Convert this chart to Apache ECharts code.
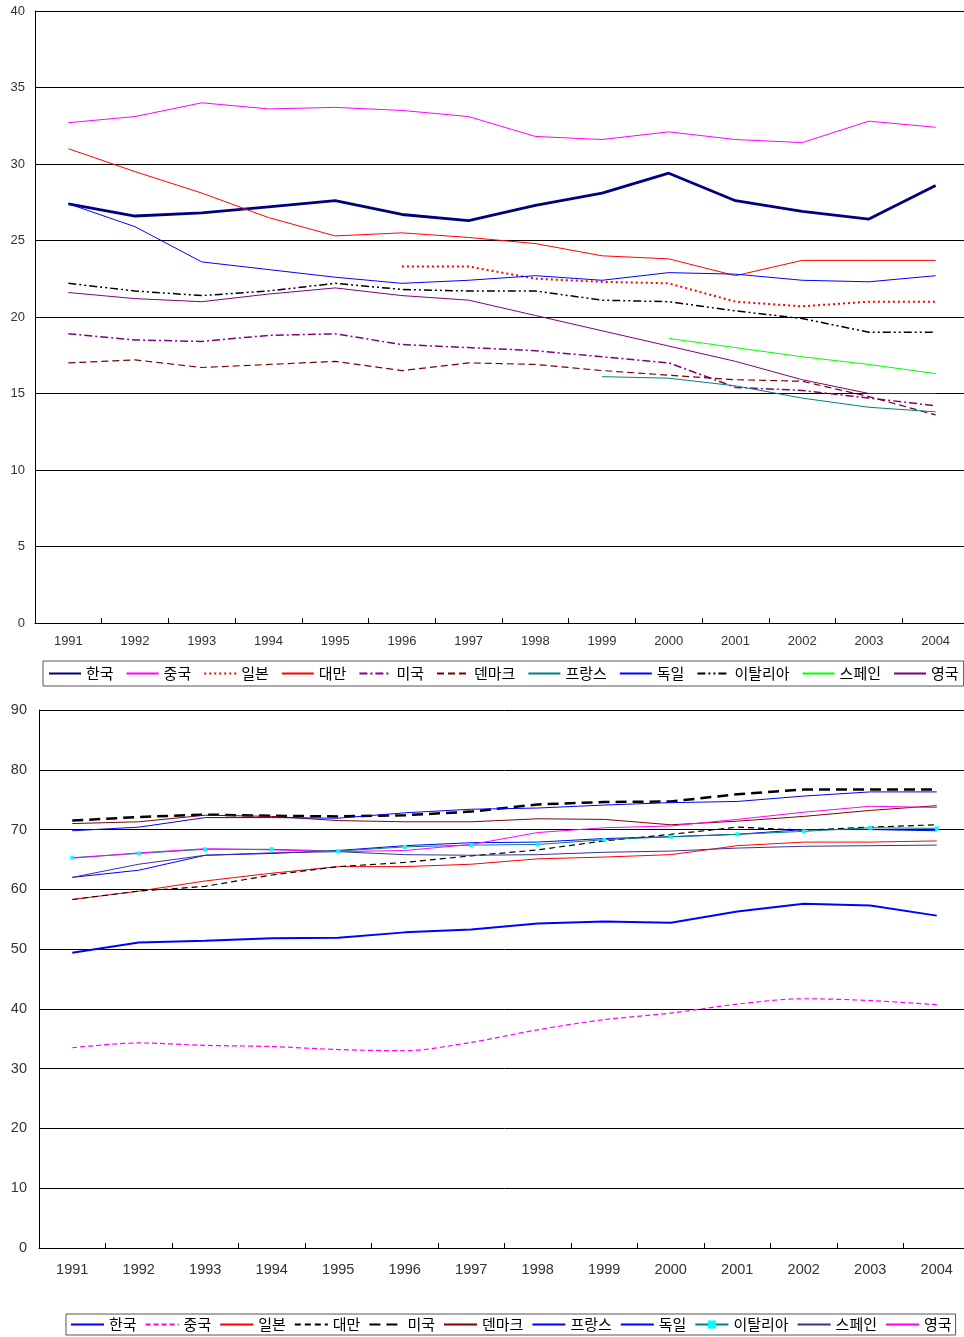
<!DOCTYPE html>
<html>
<head>
<meta charset="utf-8">
<script src="https://cdn.jsdelivr.net/npm/echarts@6/dist/echarts.min.js"></script>
<style>
html,body{margin:0;padding:0;background:#fff;overflow:hidden;width:964px;height:1337px;}
#wrap{position:absolute;left:0;top:0;width:964px;height:1337px;overflow:hidden;}
#c1{position:absolute;left:0;top:0;width:980px;height:700px;}
#c2{position:absolute;left:0;top:700px;width:980px;height:637px;}
</style>
</head>
<body>
<div id="wrap">
<div id="c1"></div>
<div id="c2"></div>
</div>
<script>
const years = ['1991','1992','1993','1994','1995','1996','1997','1998','1999','2000','2001','2002','2003','2004'];
const names = ['한국','중국','일본','대만','미국','덴마크','프랑스','독일','이탈리아','스페인','영국'];

// Top chart values
const topKorea   = [27.4,26.6,26.8,27.2,27.6,26.7,26.3,27.3,28.1,29.4,27.6,26.9,26.4,28.6];
const topChina   = [32.7,33.1,34.0,33.6,33.7,33.5,33.1,31.8,31.6,32.1,31.6,31.4,32.8,32.4];
const topJapan   = [null,null,null,null,null,23.3,23.3,22.5,22.3,22.2,21.0,20.7,21.0,21.0];
const topTaiwan  = [31.0,29.5,28.1,26.5,25.3,25.5,25.2,24.8,24.0,23.8,22.7,23.7,23.7,23.7];
const topUSA     = [18.9,18.5,18.4,18.8,18.9,18.2,18.0,17.8,17.4,17.0,15.4,15.2,14.7,14.2];
const topDenmark = [17.0,17.2,16.7,16.9,17.1,16.5,17.0,16.9,16.5,16.2,15.9,15.8,14.8,13.6];
const topFrance  = [null,null,null,null,null,null,null,null,16.1,16.0,15.5,14.7,14.1,13.8];
const topGermany = [27.4,25.9,23.6,23.1,22.6,22.2,22.4,22.7,22.4,22.9,22.8,22.4,22.3,22.7];
const topItaly   = [22.2,21.7,21.4,21.7,22.2,21.8,21.7,21.7,21.1,21.0,20.4,19.9,19.0,19.0];
const topSpain   = [null,null,null,null,null,null,null,null,null,18.6,18.0,17.4,16.9,16.3];
const topUK      = [21.6,21.2,21.0,21.5,21.9,21.4,21.1,20.1,19.1,18.1,17.1,15.9,15.0,15.0];

// Bottom chart values
const botKorea   = [49.4,51.1,51.4,51.8,51.9,52.8,53.3,54.3,54.6,54.4,56.3,57.6,57.3,55.6];
const botChina   = [33.5,34.3,33.9,33.7,33.2,33.0,34.4,36.5,38.2,39.3,40.8,41.7,41.4,40.7];
const botJapan   = [58.3,59.7,61.4,62.7,63.8,63.8,64.2,65.1,65.4,65.8,67.3,67.9,67.9,68.1];
const botTaiwan  = [58.3,59.7,60.5,62.4,63.8,64.5,65.6,66.6,68.1,69.2,70.4,69.9,70.4,70.8];
const botUSA     = [71.5,72.1,72.5,72.3,72.2,72.4,73.0,74.2,74.6,74.7,75.9,76.7,76.7,76.7];
const botDenmark = [71.0,71.3,72.4,72.2,71.5,71.3,71.3,71.8,71.7,70.8,71.4,72.2,73.2,74.0];
const botFrance  = [69.8,70.4,72.0,72.0,71.9,72.8,73.4,73.6,74.1,74.5,74.7,75.6,76.3,76.3];
const botGermany = [62.0,63.2,65.7,66.0,66.5,67.3,67.8,67.9,68.5,68.8,69.2,70.0,70.0,69.8];
const botItaly   = [65.3,66.0,66.7,66.7,66.4,67.1,67.4,67.5,68.3,68.8,69.2,69.7,70.3,70.2];
const botSpain   = [62.0,64.2,65.7,66.1,66.3,65.8,65.7,65.8,66.2,66.4,66.9,67.2,67.3,67.4];
const botUK      = [65.2,66.1,66.8,66.6,66.3,66.5,67.5,69.5,70.3,70.6,71.7,72.9,73.9,73.7];

const topData = [topKorea, topChina, topJapan, topTaiwan, topUSA, topDenmark, topFrance, topGermany, topItaly, topSpain, topUK];
const botData = [botKorea, botChina, botJapan, botTaiwan, botUSA, botDenmark, botFrance, botGermany, botItaly, botSpain, botUK];

const topStyles = [
  {color:'#000080', width:2.8, type:'solid'},
  {color:'#FF00FF', width:1, type:'solid'},
  {color:'#FF0000', width:2, type:[2,3]},
  {color:'#FF0000', width:1, type:'solid'},
  {color:'#800080', width:1.5, type:[8,3,2,3]},
  {color:'#800000', width:1.2, type:[7,4]},
  {color:'#008080', width:1, type:'solid'},
  {color:'#0000FF', width:1, type:'solid'},
  {color:'#000000', width:1.5, type:[8,3,2,3,2,3]},
  {color:'#00FF00', width:1, type:'solid'},
  {color:'#800080', width:1, type:'solid'}
];
const botStyles = [
  {color:'#0000FF', width:2, type:'solid'},
  {color:'#FF00FF', width:1.2, type:[5,3], smooth:0.3},
  {color:'#FF0000', width:1, type:'solid'},
  {color:'#000000', width:1.2, type:[6,4]},
  {color:'#000000', width:2.5, type:[11,6]},
  {color:'#800000', width:1, type:'solid'},
  {color:'#0000FF', width:1, type:'solid'},
  {color:'#0000FF', width:1, type:'solid'},
  {color:'#008080', width:1, type:'solid', marker:'#00FFFF'},
  {color:'#333399', width:1, type:'solid'},
  {color:'#FF00FF', width:1, type:'solid'}
];

function buildSeries(data, styles){
  return names.map((n,i)=>{
    const s = styles[i];
    return {
      name:n, type:'line', data:data[i],
      smooth: s.smooth || false,
      connectNulls:false,
      lineStyle:{color:s.color, width:s.width, type:s.type},
      itemStyle:{color:s.marker || s.color},
      symbol: s.marker ? 'rect' : 'none',
      symbolSize: s.marker ? 4 : 0,
      showSymbol: !!s.marker,
      emphasis:{disabled:true},
      animation:false
    };
  });
}

function legendData(styles){
  return names.map((n,i)=> styles[i].marker
    ? {name:n, itemStyle:{opacity:1}}
    : {name:n, itemStyle:{opacity:0}});
}

function axisOpts(cfg, styles){
  return {
    animation:false,
    grid:{left:cfg.left, top:cfg.top, width:cfg.width, height:cfg.height, containLabel:false},
    xAxis:{
      type:'category', data:years, boundaryGap:true,
      axisLine:{show:true, lineStyle:{color:'#000', width:1}},
      axisTick:{show:true, inside:true, length:5, lineStyle:{color:'#000'}},
      axisLabel:{color:'#333', fontSize:cfg.fs, fontFamily:'Liberation Sans', margin:cfg.xMargin, interval:0},
      splitLine:{show:false}
    },
    yAxis:{
      type:'value', min:0, max:cfg.max, interval:cfg.interval,
      axisLine:{show:true, lineStyle:{color:'#000', width:1}},
      axisTick:{show:false},
      axisLabel:{color:'#333', fontSize:cfg.fs, fontFamily:'Liberation Sans', margin:cfg.yMargin},
      splitLine:{show:true, lineStyle:{color:'#000', width:1}}
    },
    legend:{
      data:legendData(styles), left:cfg.legLeft, top:cfg.legTop, orient:'horizontal',
      itemWidth:cfg.iw, itemHeight:10, itemGap:cfg.gap,
      padding:cfg.legPad, borderColor:'#555', borderWidth:1,
      itemStyle:{opacity:0},
      textStyle:{color:'#000', fontSize:15, fontFamily:'Noto Sans CJK KR'},
      selectedMode:false
    }
  };
}

const c1 = echarts.init(document.getElementById('c1'), null, {renderer:'canvas'});
const o1 = axisOpts({left:35, top:11, width:934, height:612, fs:13, xMargin:12, yMargin:10, max:40, interval:5,
  legLeft:43, legTop:661, iw:32, gap:12, legPad:[5,5,5,5]}, topStyles);
o1.series = buildSeries(topData, topStyles);
c1.setOption(o1);

const c2 = echarts.init(document.getElementById('c2'), null, {renderer:'canvas'});
const o2 = axisOpts({left:39, top:10, width:931, height:538, fs:14.5, xMargin:14, yMargin:12, max:90, interval:10,
  legLeft:66, legTop:614, iw:33, gap:8, legPad:[3,4,3,4]}, botStyles);
o2.series = buildSeries(botData, botStyles);
c2.setOption(o2);
</script>
</body>
</html>
